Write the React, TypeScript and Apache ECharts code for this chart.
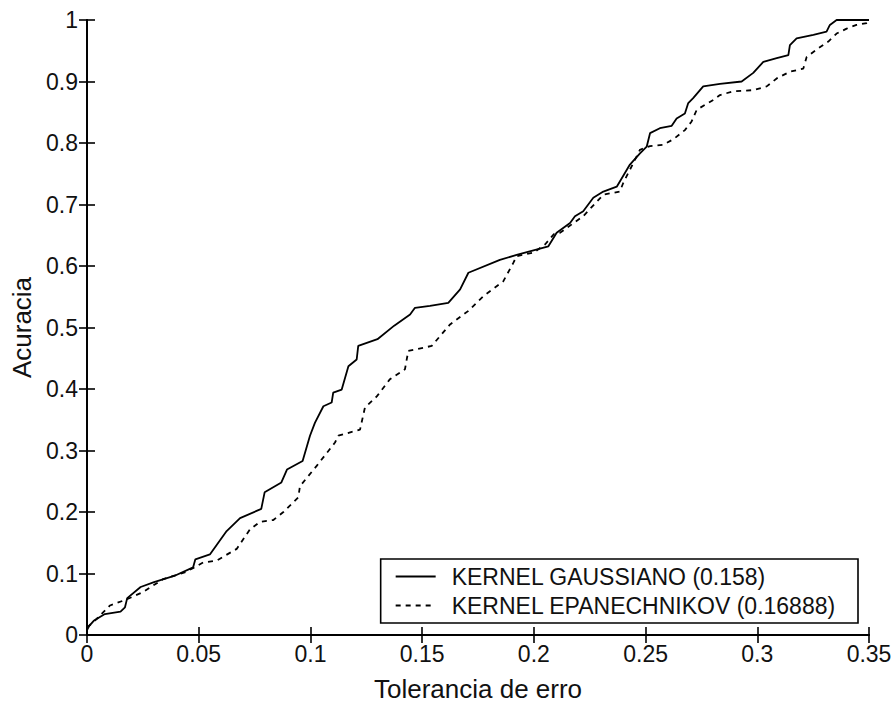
import React, { useEffect, useRef } from "react";
import * as echarts from "echarts";

const xTicks = [0, 0.05, 0.1, 0.15, 0.2, 0.25, 0.3, 0.35];
const yTicks = [0, 0.1, 0.2, 0.3, 0.4, 0.5, 0.6, 0.7, 0.8, 0.9, 1];

const seriesNames = ["KERNEL GAUSSIANO (0.158)", "KERNEL EPANECHNIKOV (0.16888)"];

const gaussX = [0, 0.001, 0.003, 0.008, 0.015, 0.017, 0.018, 0.024, 0.030, 0.039, 0.0475, 0.0485, 0.055, 0.0625, 0.0685, 0.078, 0.0795, 0.087, 0.0895, 0.0965, 0.0998, 0.102, 0.1058, 0.1095, 0.1102, 0.114, 0.117, 0.1207, 0.1214, 0.130, 0.1375, 0.1446, 0.1468, 0.1535, 0.1617, 0.167, 0.1707, 0.1848, 0.1923, 0.2065, 0.2102, 0.2162, 0.2184, 0.2221, 0.2266, 0.2311, 0.2371, 0.243, 0.2475, 0.2505, 0.252, 0.2564, 0.2617, 0.2639, 0.2676, 0.2691, 0.2713, 0.2758, 0.2833, 0.293, 0.2982, 0.3027, 0.3087, 0.3139, 0.3146, 0.3176, 0.3251, 0.331, 0.3325, 0.3355, 0.35];
const gaussY = [0.008, 0.015, 0.023, 0.034, 0.038, 0.045, 0.060, 0.078, 0.086, 0.096, 0.110, 0.123, 0.131, 0.169, 0.190, 0.205, 0.232, 0.248, 0.269, 0.283, 0.324, 0.345, 0.372, 0.378, 0.394, 0.399, 0.437, 0.448, 0.470, 0.481, 0.503, 0.521, 0.532, 0.535, 0.540, 0.562, 0.589, 0.610, 0.618, 0.632, 0.654, 0.670, 0.681, 0.689, 0.711, 0.721, 0.729, 0.765, 0.783, 0.794, 0.816, 0.824, 0.828, 0.840, 0.848, 0.865, 0.873, 0.892, 0.896, 0.900, 0.914, 0.932, 0.938, 0.943, 0.959, 0.970, 0.976, 0.981, 0.992, 1.0, 1.0];

const epanX = [0, 0.004, 0.0103, 0.0178, 0.0252, 0.0341, 0.0446, 0.052, 0.058, 0.067, 0.073, 0.0774, 0.0834, 0.0879, 0.0946, 0.0953, 0.1028, 0.111, 0.1125, 0.1222, 0.1244, 0.1297, 0.1356, 0.1423, 0.1438, 0.1543, 0.158, 0.1625, 0.1707, 0.1774, 0.1863, 0.1908, 0.1923, 0.200, 0.205, 0.209, 0.2117, 0.2221, 0.2311, 0.2385, 0.240, 0.2475, 0.252, 0.2579, 0.2624, 0.2676, 0.2706, 0.2729, 0.2803, 0.2833, 0.2893, 0.2982, 0.3042, 0.3087, 0.3146, 0.3206, 0.3221, 0.3273, 0.3318, 0.3355, 0.340, 0.3444, 0.349, 0.35];
const epanY = [0.012, 0.025, 0.048, 0.058, 0.070, 0.091, 0.103, 0.118, 0.121, 0.140, 0.172, 0.184, 0.187, 0.200, 0.224, 0.242, 0.275, 0.313, 0.324, 0.334, 0.370, 0.388, 0.416, 0.432, 0.462, 0.470, 0.486, 0.505, 0.527, 0.551, 0.575, 0.605, 0.616, 0.622, 0.635, 0.652, 0.654, 0.681, 0.716, 0.721, 0.735, 0.789, 0.795, 0.797, 0.806, 0.821, 0.835, 0.854, 0.870, 0.878, 0.884, 0.886, 0.892, 0.905, 0.916, 0.921, 0.940, 0.954, 0.965, 0.978, 0.986, 0.992, 0.995, 0.997];

const FONT = "'Liberation Sans', Arial, sans-serif";

export default function App() {
  const ref = useRef<HTMLDivElement>(null);
  useEffect(() => {
    if (!ref.current) return;
    const chart = echarts.init(ref.current, undefined, { renderer: "svg" });
    const axisLine = { show: true, lineStyle: { color: "#000", width: 1.8 } };
    const tick = { show: true, inside: true, length: 8, lineStyle: { color: "#000", width: 1.6 } };
    const labelStyle = { color: "#111", fontSize: 23, fontFamily: FONT };
    chart.setOption({
      animation: false,
      backgroundColor: "#fff",
      textStyle: { fontFamily: FONT },
      grid: { left: 87, right: 26, top: 20, bottom: 71, containLabel: false },
      legend: {
        orient: "vertical",
        right: 37,
        top: 559,
        data: seriesNames,
        borderColor: "#000",
        borderWidth: 1.6,
        borderRadius: 0,
        padding: [6, 22, 6, 14],
        itemWidth: 40,
        itemHeight: 10,
        itemGap: 6,
        itemStyle: { color: "rgba(0,0,0,0)", borderWidth: 0, opacity: 0 },
        textStyle: { color: "#111", fontSize: 23, fontFamily: FONT, padding: [0, 0, 0, 11] },
      },
      xAxis: [
        {
          type: "value",
          min: 0,
          max: 0.35,
          interval: 0.05,
          position: "bottom",
          axisLine,
          axisTick: tick,
          splitLine: { show: false },
          axisLabel: { ...labelStyle, margin: 7, formatter: (v: number) => String(+v.toFixed(2)) },
          name: "Tolerancia de erro",
          nameLocation: "middle",
          nameGap: 41,
          nameTextStyle: { color: "#111", fontSize: 26, fontFamily: FONT },
        },
        {
          type: "value",
          min: 0,
          max: 0.35,
          interval: 0.05,
          position: "top",
          axisLine,
          axisTick: tick,
          splitLine: { show: false },
          axisLabel: { show: false },
        },
      ],
      yAxis: [
        {
          type: "value",
          min: 0,
          max: 1,
          interval: 0.1,
          position: "left",
          axisLine,
          axisTick: tick,
          splitLine: { show: false },
          axisLabel: { ...labelStyle, margin: 9, formatter: (v: number) => String(+v.toFixed(1)) },
          name: "Acuracia",
          nameLocation: "middle",
          nameGap: 46,
          nameTextStyle: { color: "#111", fontSize: 26, fontFamily: FONT },
        },
        {
          type: "value",
          min: 0,
          max: 1,
          interval: 0.1,
          position: "right",
          axisLine,
          axisTick: tick,
          splitLine: { show: false },
          axisLabel: { show: false },
        },
      ],
      series: [
        {
          name: seriesNames[0],
          type: "line",
          symbol: "none",
          data: gaussX.map((x, i) => [x, gaussY[i]]),
          lineStyle: { color: "#000", width: 1.8, type: "solid" },
          itemStyle: { color: "#000" },
        },
        {
          name: seriesNames[1],
          type: "line",
          symbol: "none",
          data: epanX.map((x, i) => [x, epanY[i]]),
          lineStyle: { color: "#000", width: 1.8, type: [5, 5] },
          itemStyle: { color: "#000" },
        },
      ],
    });
    return () => chart.dispose();
  }, []);
  return (
    <div
      ref={ref}
      style={{ position: "fixed", left: 0, top: 0, width: 895, height: 707, background: "#fff" }}
    />
  );
}
